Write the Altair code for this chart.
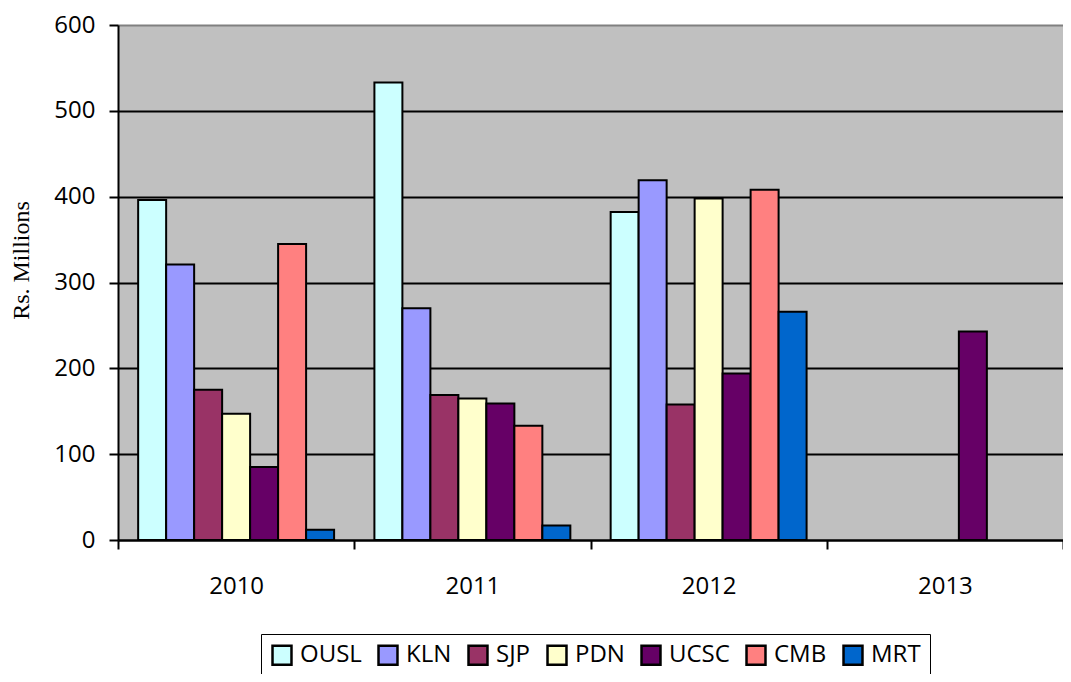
import altair as alt
import pandas as pd

years = ["2010", "2011", "2012", "2013"]
series = ["OUSL", "KLN", "SJP", "PDN", "UCSC", "CMB", "MRT"]
colors = ["#CCFFFF", "#9999FF", "#993366", "#FFFFCC", "#660066", "#FF8080", "#0066CC"]

ousl = [396, 533, 382, None]
kln = [321, 270, 419, None]
sjp = [175, 169, 158, None]
pdn = [147, 165, 398, None]
ucsc = [85, 159, 194, 243]
cmb = [345, 133, 408, None]
mrt = [12, 17, 266, None]

values = {"OUSL": ousl, "KLN": kln, "SJP": sjp, "PDN": pdn, "UCSC": ucsc, "CMB": cmb, "MRT": mrt}
rows = []
for s in series:
    for y, v in zip(years, values[s]):
        if v is not None:
            rows.append({"year": y, "uni": s, "value": v})
df = pd.DataFrame(rows)

FONT = "Open Sans"

chart = alt.Chart(df).mark_bar(stroke="black", strokeWidth=2).encode(
    x=alt.X("year:N", sort=years,
            scale=alt.Scale(domain=years, paddingInner=0, paddingOuter=0),
            axis=alt.Axis(title=None, labelAngle=0, labelFont=FONT, labelFontSize=24,
                          labelColor="black", tickBand="extent", tickSize=9, tickColor="black",
                          tickWidth=2, domainColor="black", domainWidth=2, labelPadding=25)),
    xOffset=alt.XOffset("uni:N", sort=series,
                        scale=alt.Scale(domain=series, paddingInner=0, paddingOuter=0.72)),
    y=alt.Y("value:Q", scale=alt.Scale(domain=[0, 600], nice=False),
            axis=alt.Axis(title="Rs. Millions", values=[0, 100, 200, 300, 400, 500, 600],
                          labelFont=FONT, labelFontSize=24, labelColor="black",
                          titleFont="Liberation Serif", titleFontSize=24, titleFontWeight="normal",
                          titleColor="black", titleY=235, titleX=-97, titleBaseline="middle",
                          titleAngle=270,
                          tickSize=9, tickColor="black", tickWidth=2, labelPadding=14,
                          domainColor="black", domainWidth=2,
                          grid=True,
                          gridColor=alt.condition("datum.value == 600", alt.value("#808080"), alt.value("black")),
                          gridWidth=2)),
    color=alt.Color("uni:N", sort=series,
                    scale=alt.Scale(domain=series, range=colors),
                    legend=alt.Legend(title=None, orient="none", legendX=143, legendY=609,
                                      direction="horizontal", columns=7,
                                      symbolType="square", symbolSize=360, symbolStrokeColor="black",
                                      symbolStrokeWidth=2.5, symbolOpacity=1,
                                      labelFont=FONT, labelFontSize=24, labelColor="black",
                                      labelOffset=6, columnPadding=11,
                                      strokeColor="black", padding=9, fillColor="white")),
).properties(
    width=945, height=515,
    autosize=alt.AutoSizeParams(type="none"),
    padding={"left": 110, "top": 17, "right": 0, "bottom": 134},
    background="white",
).configure_view(
    fill="#C0C0C0", stroke=None
)

chart.save("out.html", embed_options={"renderer": "svg", "actions": False})
